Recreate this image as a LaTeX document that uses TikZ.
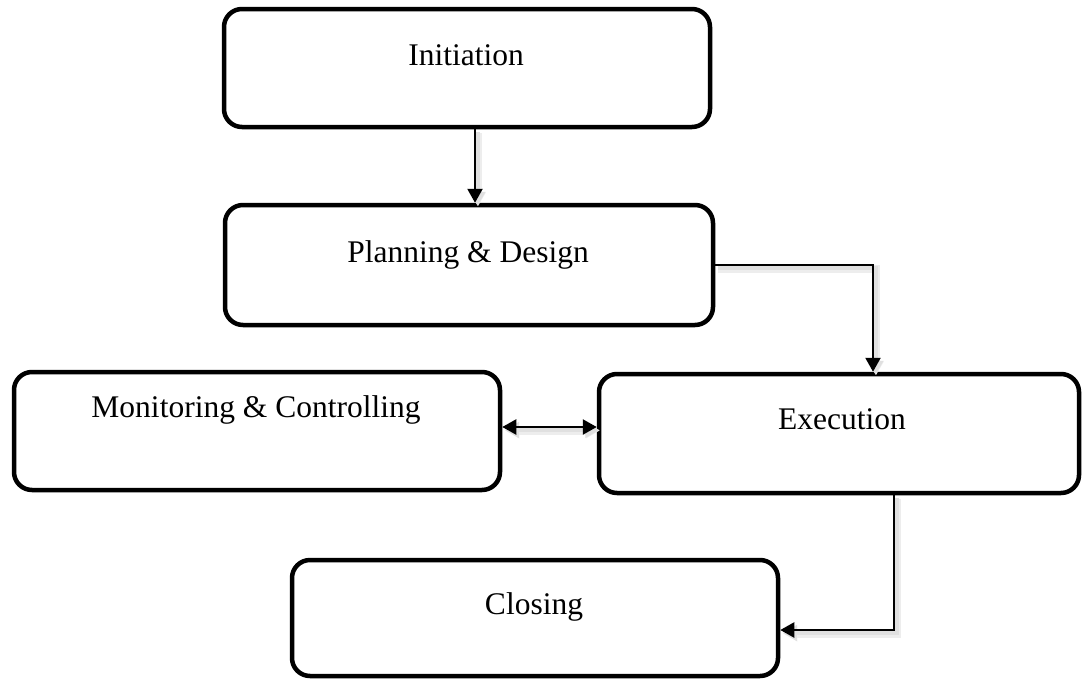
\documentclass[tikz,border=0pt]{standalone}
\usepackage{fontspec}
\setmainfont{Liberation Serif}
\usetikzlibrary{calc,arrows.meta}

\tikzset{
  phase/.style={draw=black, line width=4.5pt, rounded corners=18pt, fill=white,
    minimum width=#1, minimum height=118pt, inner sep=0pt},
  phase/.default=486pt,
  label text/.style={anchor=base, inner sep=0pt, font=\fontsize{31.5pt}{36pt}\selectfont},
  flowtip/.tip={Triangle[length=14pt,width=15pt]},
  soft shadow/.style={draw=black!7, line width=8pt,
    transform canvas={shift={(3pt,-3.5pt)}}},
  core shadow/.style={draw=black!12, line width=4pt,
    transform canvas={shift={(2.5pt,-3pt)}}},
  conn/.style={line width=2.3pt, draw=black,
    preaction={soft shadow}, preaction={core shadow},
    -flowtip},
  conn both/.style={conn, flowtip-flowtip}
}

\begin{document}
\begin{tikzpicture}[x=1pt, y=-1pt]
  \useasboundingbox (0,0) rectangle (1083,680);

  % process phases
  \node[phase] (init)  at (467,68)   {};
  \node[phase=488pt, minimum height=120pt] (plan) at (469,265) {};
  \node[phase] (mon)   at (257,431)  {};
  \node[phase=480pt, minimum height=119pt] (exec) at (839,433.5) {};
  \node[phase, minimum height=116pt] (close) at (535,618) {};

  % phase names
  \node[label text] (tinit)  at (466,65)  {Initiation};
  \node[label text] (tplan)  at (468,262) {Planning \& Design};
  \node[label text] (tmon)   at (256,417) {Monitoring \& Controlling};
  \node[label text] (texec)  at (842,429) {Execution};
  \node[label text] (tclose) at (534,614) {Closing};

  % flow between phases
  \coordinate (a1) at ($(init.south)+(8,0)$);
  \draw[conn] (a1) -- (a1 |- plan.north);

  \coordinate (a2) at ($(exec.north)+(34,0)$);
  \draw[conn] (plan.east) -| (a2);

  \coordinate (a3) at ($(mon.east)+(0,-4)$);
  \draw[conn both] (a3) -- (a3 -| exec.west);

  \coordinate (a4) at ($(exec.south)+(55,0)$);
  \coordinate (a5) at ($(close.east)+(0,12)$);
  \draw[conn] (a4) |- (a5);
\end{tikzpicture}
\end{document}
